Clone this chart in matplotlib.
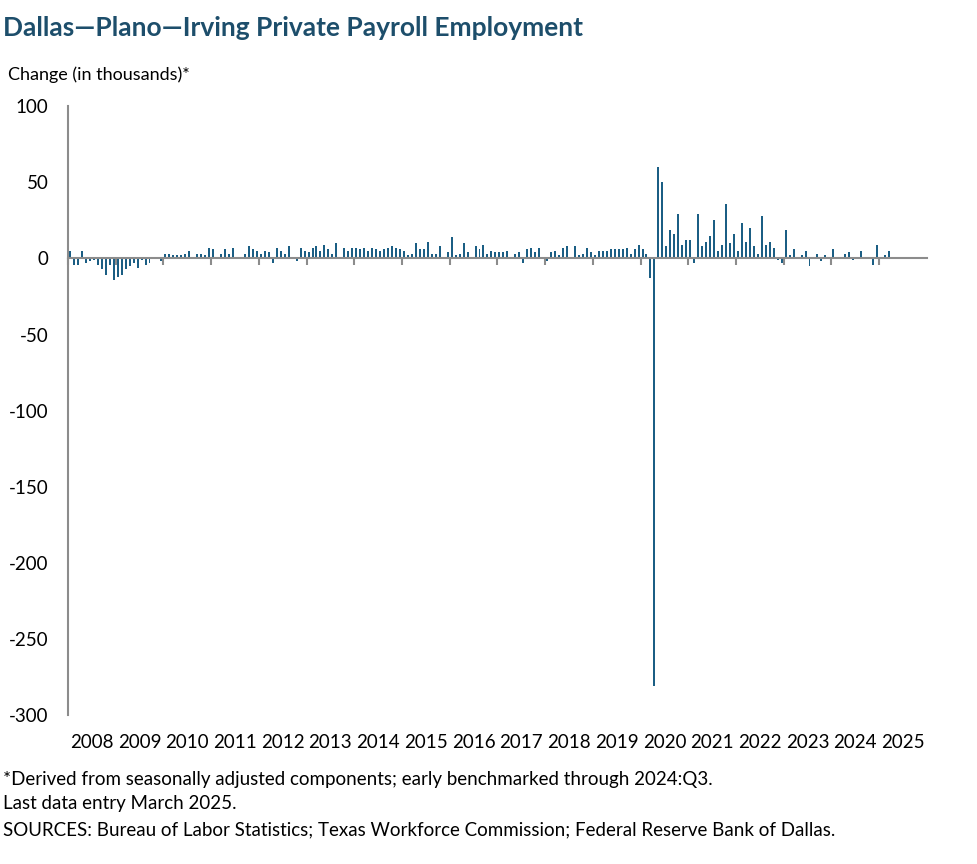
import matplotlib
matplotlib.use("Agg")
import matplotlib.pyplot as plt
import matplotlib.transforms as mt
import numpy as np

plt.rcParams["font.family"] = "Lato"
plt.rcParams["axes.unicode_minus"] = False

years = list(range(2008, 2026))
v2008 = [5, -4, -4, 5, -3, -2, -1, -4, -7, -11, -4, -14]
v2009 = [-12, -11, -7, -5, -3, -6, -1, -4, -3, 1, 0, -2]
v2010 = [3, 3, 2, 2, 2, 3, 5, 1, 3, 3, 2, 7]
v2011 = [6, 0, 3, 6, 3, 7, 0, 0, 3, 8, 6, 5]
v2012 = [3, 5, 4, -3, 7, 5, 3, 8, 0, -2, 7, 5]
v2013 = [4, 7, 8, 5, 9, 6, 3, 10, 0, 7, 5, 7]
v2014 = [7, 6, 7, 5, 7, 6, 5, 6, 7, 8, 7, 6]
v2015 = [5, 2, 3, 10, 6, 6, 11, 3, 3, 8, 0, 4]
v2016 = [14, 2, 3, 10, 4, 1, 8, 6, 9, 3, 5, 4]
v2017 = [4, 4, 5, 1, 3, 4, -3, 6, 7, 4, 7, 1]
v2018 = [-2, 4, 5, 2, 7, 8, 1, 8, 2, 3, 7, 4]
v2019 = [2, 5, 5, 5, 6, 6, 6, 6, 7, 3, 6, 9]
v2020 = [6, 3, -13, -281, 60, 50, 8, 19, 16, 29, 9, 12]
v2021 = [12, -3, 29, 8, 11, 15, 25, 5, 9, 36, 10, 16]
v2022 = [5, 23, 11, 20, 8, 3, 28, 9, 11, 7, -1, -3]
v2023 = [19, 2, 6, 0, 2, 5, -5, 0, 3, -2, 2, 0]
v2024 = [6, 1, 0, 3, 4, -1, 1, 5, 0, 0, -4, 9]
v2025 = [0, 2, 5]

values = (v2008 + v2009 + v2010 + v2011 + v2012 + v2013 + v2014 + v2015 + v2016
          + v2017 + v2018 + v2019 + v2020 + v2021 + v2022 + v2023 + v2024 + v2025)
x = 2008 + (np.arange(len(values)) + 0.5) / 12

fig = plt.figure(figsize=(9.77, 8.64), dpi=100)
ax = fig.add_axes([0.0696, 0.1725, 0.879, 0.7045])
ax.bar(x, values, width=0.5 / 12, color="#1b5e84")
ax.set_xlim(2008, 2026)
ax.set_ylim(-300, 100)
ax.set_yticks(range(-300, 101, 50))
ax.tick_params(axis="y", length=0, labelsize=13.5, pad=14)
for s in ["top", "right"]:
    ax.spines[s].set_visible(False)
ax.spines["left"].set_color("#8c8c8c")
ax.spines["left"].set_linewidth(1.5)
ax.spines["bottom"].set_position(("data", 0))
ax.spines["bottom"].set_color("#8c8c8c")
ax.spines["bottom"].set_linewidth(1.5)
ax.set_xticks(years)
ax.set_xticklabels([])
ax.tick_params(axis="x", direction="out", length=5, width=1.5, color="#8c8c8c")
trans = mt.blended_transform_factory(ax.transData, ax.transAxes)
for yr in years:
    ax.text(yr + 0.5, -0.045, str(yr), transform=trans, ha="center", va="center", fontsize=13.5)

fig.text(0.003, 0.968, "Dallas\u2014Plano\u2014Irving Private Payroll Employment", fontsize=19,
         fontweight="bold", color="#1d4e6b", va="center")
fig.text(0.008, 0.914, "Change (in thousands)*", fontsize=13, va="center")
fig.text(0.003, 0.098, "*Derived from seasonally adjusted components; early benchmarked through 2024:Q3.",
         fontsize=13.5, va="center")
fig.text(0.003, 0.070, "Last data entry March 2025.", fontsize=13.5, va="center")
fig.text(0.003, 0.040, "SOURCES: Bureau of Labor Statistics; Texas Workforce Commission; Federal Reserve Bank of Dallas.",
         fontsize=13.5, va="center")
fig.savefig("out.png", dpi=100)
